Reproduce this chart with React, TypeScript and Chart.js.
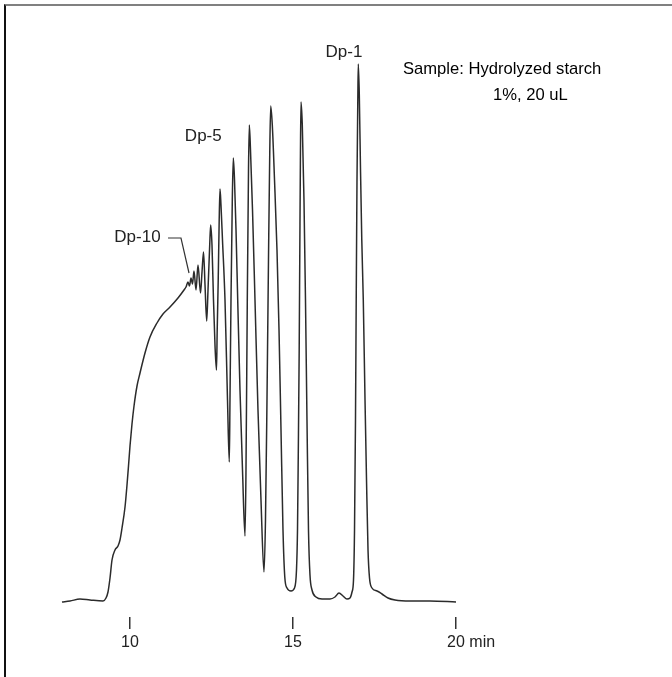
import React, { useEffect, useRef } from 'react';
import { Chart, registerables } from 'chart.js';

Chart.register(...registerables);

// Retention time (min) of each traced point of the chromatogram
const times = [
  7.914, 8.160, 8.466, 8.773, 9.172, 9.264, 9.325, 9.387, 9.448, 9.540,
  9.632, 9.693, 9.755, 9.847, 9.908, 9.954, 10.000, 10.061, 10.123, 10.215,
  10.307, 10.460, 10.613, 10.828, 11.012, 11.227, 11.472, 11.656, 11.718, 11.779,
  11.825, 11.871, 11.917, 11.963, 12.025, 12.086, 12.163, 12.209, 12.255, 12.301,
  12.353, 12.393, 12.445, 12.475, 12.515, 12.561, 12.607, 12.653, 12.675, 12.706,
  12.736, 12.761, 12.791, 12.837, 12.914, 12.991, 13.046, 13.067, 13.098, 13.138,
  13.169, 13.206, 13.252, 13.304, 13.374, 13.451, 13.528, 13.558, 13.598, 13.635,
  13.660, 13.696, 13.758, 13.834, 13.926, 14.018, 14.110, 14.156, 14.202, 14.248,
  14.288, 14.316, 14.365, 14.433, 14.509, 14.571, 14.632, 14.693, 14.748, 14.816,
  14.939, 15.046, 15.107, 15.138, 15.163, 15.190, 15.209, 15.227, 15.245, 15.285,
  15.337, 15.383, 15.429, 15.475, 15.521, 15.583, 15.706, 15.890, 16.135, 16.288,
  16.411, 16.534, 16.656, 16.748, 16.810, 16.856, 16.887, 16.917, 16.939, 16.963,
  16.988, 17.003, 17.034, 17.071, 17.110, 17.156, 17.209, 17.255, 17.301, 17.347,
  17.423, 17.577, 17.730, 17.914, 18.129, 18.589, 19.202, 20.000,
];

// Detector response (nC) at each time
const signal = [
  0.0, 0.1, 0.3, 0.2, 0.1, 0.4, 1.0, 2.4, 4.2, 5.2,
  5.6, 6.2, 7.4, 9.5, 11.7, 13.6, 15.6, 17.8, 19.6, 21.6,
  22.9, 24.9, 26.5, 27.9, 28.8, 29.5, 30.4, 31.2, 31.5, 32.0,
  31.6, 32.4, 31.8, 33.1, 31.2, 33.7, 30.9, 33.0, 35.0, 31.7,
  28.1, 31.2, 35.7, 37.7, 35.7, 30.2, 25.7, 23.2, 27.2, 32.2,
  38.2, 41.3, 39.7, 36.2, 30.2, 20.2, 14.0, 20.2, 30.2, 40.2,
  44.4, 42.2, 37.2, 30.2, 21.2, 13.2, 6.6, 13.2, 30.2, 43.2,
  47.7, 45.2, 39.2, 30.2, 19.2, 10.2, 3.0, 8.2, 20.2, 34.2,
  45.2, 49.6, 47.7, 42.2, 35.2, 27.2, 17.2, 7.2, 2.5, 1.4,
  1.1, 1.4, 3.2, 7.2, 15.2, 25.2, 35.2, 44.2, 50.0, 47.7,
  40.2, 30.2, 18.2, 7.2, 2.7, 1.2, 0.5, 0.3, 0.3, 0.5,
  0.9, 0.6, 0.3, 0.4, 1.0, 2.2, 7.2, 18.2, 30.2, 42.2,
  50.2, 53.8, 50.7, 43.2, 36.2, 30.2, 20.2, 12.2, 5.2, 2.4,
  1.4, 1.1, 0.8, 0.4, 0.2, 0.1, 0.1, 0.0,
];

const tickValues = [10, 15, 20];
const tickUnit = 'min';

const peakLabels = ['Dp-1', 'Dp-5', 'Dp-10'];
const peakLabelTimes = [16.564, 12.248, 10.23];
const peakLabelValues = [55.0, 46.6, 36.5];

const leaderTimes = [11.166, 11.564, 11.81];
const leaderValues = [36.4, 36.4, 32.9];

const sampleLines = ['Sample: Hydrolyzed starch', '1%, 20 uL'];
const sampleTimes = [18.374, 21.135];
const sampleValues = [53.25, 50.7];

const FONT = '"Liberation Sans", Arial, Helvetica, sans-serif';

const annotationPlugin = {
  id: 'chromAnnotations',
  afterDraw(chart: any) {
    const ctx = chart.ctx as CanvasRenderingContext2D;
    const xs = chart.scales.x;
    const ys = chart.scales.y;
    ctx.save();

    // tick labels
    ctx.fillStyle = '#222';
    ctx.font = `16px ${FONT}`;
    ctx.textBaseline = 'middle';
    ctx.textAlign = 'left';
    const labelY = xs.top + 25.5;
    tickValues.forEach((v, i) => {
      const num = String(v);
      const w = ctx.measureText(num).width;
      const px = xs.getPixelForValue(v);
      const txt = i === tickValues.length - 1 ? `${num} ${tickUnit}` : num;
      ctx.fillText(txt, px - w / 2, labelY);
    });

    // peak labels
    ctx.font = `17px ${FONT}`;
    ctx.textAlign = 'center';
    ctx.fillStyle = '#222';
    peakLabels.forEach((s, i) => {
      ctx.fillText(s, xs.getPixelForValue(peakLabelTimes[i]), ys.getPixelForValue(peakLabelValues[i]));
    });

    // leader line for Dp-10
    ctx.strokeStyle = '#333';
    ctx.lineWidth = 1.2;
    ctx.beginPath();
    leaderTimes.forEach((t, i) => {
      const x = xs.getPixelForValue(t);
      const y = ys.getPixelForValue(leaderValues[i]);
      if (i === 0) ctx.moveTo(x, y);
      else ctx.lineTo(x, y);
    });
    ctx.stroke();

    // sample annotation
    ctx.font = `16.6px ${FONT}`;
    ctx.textAlign = 'left';
    ctx.fillStyle = '#000';
    sampleLines.forEach((s, i) => {
      ctx.fillText(s, xs.getPixelForValue(sampleTimes[i]), ys.getPixelForValue(sampleValues[i]));
    });

    ctx.restore();
  },
};

export default function App() {
  const canvasRef = useRef<HTMLCanvasElement | null>(null);

  useEffect(() => {
    if (!canvasRef.current) return;
    const chart = new Chart(canvasRef.current, {
      type: 'line',
      data: {
        datasets: [
          {
            data: times.map((t, i) => ({ x: t, y: signal[i] })),
            borderColor: '#2b2b2b',
            borderWidth: 1.5,
            pointRadius: 0,
            fill: false,
            cubicInterpolationMode: 'monotone',
          },
        ],
      },
      options: {
        responsive: false,
        animation: false,
        devicePixelRatio: 1,
        layout: { padding: { left: 32.2, right: 183.4, top: 57, bottom: 0 } },
        plugins: { legend: { display: false }, tooltip: { enabled: false } },
        scales: {
          x: {
            type: 'linear',
            min: 7,
            max: 21,
            afterBuildTicks: (s: any) => {
              s.ticks = tickValues.map((v) => ({ value: v }));
            },
            afterFit: (s: any) => {
              s.height = 60;
            },
            grid: {
              display: true,
              drawOnChartArea: false,
              drawTicks: true,
              tickLength: 12,
              color: '#333',
              lineWidth: 1.5,
            },
            border: { display: false },
            ticks: { display: false },
          },
          y: { type: 'linear', display: false, min: -1.5, max: 54.5 },
        },
      } as any,
      plugins: [annotationPlugin],
    });
    return () => chart.destroy();
  }, []);

  return (
    <div style={{ position: 'fixed', left: 0, top: 0, width: 672, height: 677, background: '#fff', overflow: 'hidden' }}>
      <div
        style={{
          position: 'absolute',
          left: 4,
          top: 4,
          right: 0,
          bottom: 0,
          borderTop: '2px solid #808080',
          borderLeft: '2px solid #111',
        }}
      />
      <canvas ref={canvasRef} width={672} height={677} style={{ position: 'absolute', left: 0, top: 0 }} />
    </div>
  );
}
